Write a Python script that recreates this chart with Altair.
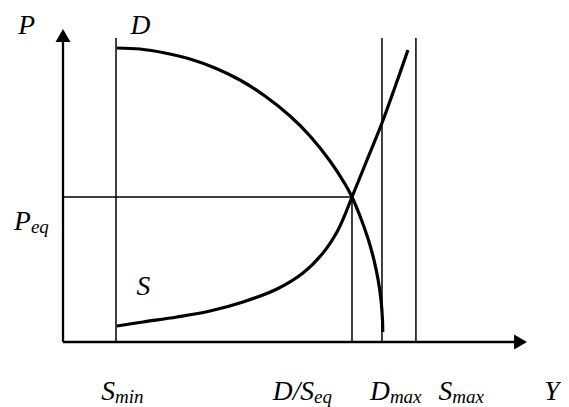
import altair as alt
import pandas as pd

# ---- data (economic units: Y along x, P along y) ----
d_x = [11.61, 16.56, 21.94, 27.31, 32.69, 38.06, 43.44, 48.82, 53.12, 57.42,
       60.65, 62.15, 63.87, 65.59, 66.88, 67.74, 68.39, 68.71, 68.77]
d_y = [93.63, 93.31, 92.04, 90.13, 87.26, 83.44, 78.34, 71.97, 65.61, 57.64,
       50.32, 46.18, 40.13, 32.96, 26.11, 20.06, 13.38, 7.01, 3.18]

s_x = [11.61, 17.20, 24.52, 31.61, 38.71, 46.02, 51.61, 55.91, 58.92, 60.43,
       62.15, 65.38, 68.60, 71.40, 74.19]
s_y = [5.10, 6.37, 7.96, 9.87, 12.74, 16.88, 21.97, 28.34, 35.03, 39.81,
       46.18, 57.96, 69.75, 81.21, 92.99]

s_min = 11.4
y_eq = 62.15
d_max = 68.6
s_max = 75.9
p_eq = 46.18
line_top = 96.8

# single labels (left aligned): text, x, y
single_text = ["P", "D", "S", "Y"]
single_x = [-9.6, 14.5, 15.8, 103.5]
single_y = [98.1, 98.1, 15.0, -18.5]

# labels with subscripts: main text ends at anchor, subscript starts there
sub_main = ["P", "S", "D/S", "D", "S"]
sub_text = ["eq", "min", "eq", "max", "max"]
sub_anchor_x = [-6.9, 11.2, 54.0, 70.3, 83.7]
sub_main_y = [35.7, -18.5, -18.5, -18.5, -18.5]
sub_drop = 1.0

# ---- tables ----
curves = pd.DataFrame({
    "x": d_x + s_x,
    "y": d_y + s_y,
    "curve": ["D"] * len(d_x) + ["S"] * len(s_x),
})

axes_df = pd.DataFrame({
    "x": [0, 0], "y": [0, 0],
    "x2": [98.0, 0], "y2": [0, 97.0],
})

thin_df = pd.DataFrame({
    "x": [s_min, d_max, s_max, y_eq, 0],
    "y": [0, 0, 0, 0, p_eq],
    "x2": [s_min, d_max, s_max, y_eq, y_eq],
    "y2": [line_top, line_top, line_top, p_eq, p_eq],
})

arrows_df = pd.DataFrame({
    "x": [0, 98.4],
    "y": [97.6, 0],
    "shape": ["triangle-up", "triangle-right"],
})

single_df = pd.DataFrame({"t": single_text, "x": single_x, "y": single_y})
main_df = pd.DataFrame({"t": sub_main, "x": sub_anchor_x, "y": sub_main_y})
subs_df = pd.DataFrame({"t": sub_text, "x": sub_anchor_x,
                        "y": [v - sub_drop for v in sub_main_y]})

xs = alt.Scale(domain=[-11.83, 107.10], nice=False, zero=False)
ys = alt.Scale(domain=[-20.70, 106.37], nice=False, zero=False)

X = lambda f="x": alt.X(f"{f}:Q", scale=xs, axis=None)
Y = lambda f="y": alt.Y(f"{f}:Q", scale=ys, axis=None)

curve_layer = alt.Chart(curves).mark_line(
    color="black", strokeWidth=3.2, interpolate="catmull-rom"
).encode(x=X(), y=Y(), detail="curve:N")

axes_layer = alt.Chart(axes_df).mark_rule(color="black", strokeWidth=2.3).encode(
    x=X(), y=Y(), x2="x2:Q", y2="y2:Q")

thin_layer = alt.Chart(thin_df).mark_rule(color="black", strokeWidth=1.5).encode(
    x=X(), y=Y(), x2="x2:Q", y2="y2:Q")

arrow_layer = alt.Chart(arrows_df).mark_point(
    filled=True, color="black", size=225, opacity=1
).encode(x=X(), y=Y(), shape=alt.Shape("shape:N", scale=None))

font = dict(font="Liberation Serif", fontStyle="italic", color="black",
            baseline="alphabetic")

single_layer = alt.Chart(single_df).mark_text(align="left", fontSize=27.5, **font).encode(
    x=X(), y=Y(), text="t:N")
main_layer = alt.Chart(main_df).mark_text(align="right", fontSize=27.5, **font).encode(
    x=X(), y=Y(), text="t:N")
sub_layer = alt.Chart(subs_df).mark_text(align="left", fontSize=19, **font).encode(
    x=X(), y=Y(), text="t:N")

chart = alt.layer(
    thin_layer, axes_layer, arrow_layer, curve_layer,
    single_layer, main_layer, sub_layer
).properties(
    width=553, height=399,
    autosize=alt.AutoSizeParams(type="none"),
    padding=0,
    background="white",
).configure_view(stroke=None)

chart.save("out.html", embed_options={"renderer": "svg", "actions": False})
